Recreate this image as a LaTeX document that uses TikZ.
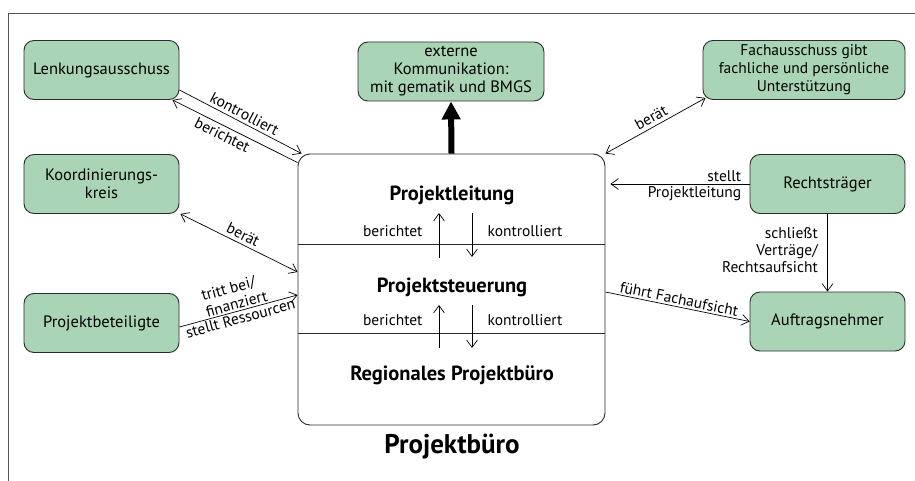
\documentclass[tikz,border=0pt]{standalone}
\usepackage{fontspec}
\setmainfont{PT Sans}
\usepackage{xcolor}
\usepackage{tikz}
\usetikzlibrary{arrows.meta}
\definecolor{pbgreen}{HTML}{A9D5B6}
\definecolor{pbline}{HTML}{2B2B2B}

\begin{document}
\begin{tikzpicture}[x=1pt,y=-1pt,
  every node/.style={font=\fontsize{15.5}{17}\selectfont},
  gremium/.style={draw=pbline,fill=pbgreen,rounded corners=10pt,line width=0.9pt,
    minimum width=155pt,minimum height=59pt,align=center,inner sep=2pt,
    font=\fontsize{16.5}{18}\selectfont},
  pfeil/.style={-{Straight Barb[length=2.6mm,width=3.8mm]},line width=0.7pt},
  doppelpfeil/.style={{Straight Barb[length=2.6mm,width=3.8mm]}-{Straight Barb[length=2.6mm,width=3.8mm]},line width=0.7pt},
  ebene/.style={font=\bfseries\fontsize{20.5}{22}\selectfont}]
  \useasboundingbox (0,0) rectangle (915,481);
  \draw[pbline!80,line width=0.8pt] (8,481) -- (8,13) -- (915,13);

  \node[gremium] (lenk) at (101.5,70) {Lenkungsausschuss};
  \node[gremium] (koord) at (101.5,184) {Koordinierungs-\\kreis};
  \node[gremium] (beteil) at (101.5,323) {Projektbeteiligte};
  \node[gremium,minimum width=186pt] (ext) at (451,71.5) {externe\\Kommunikation:\\mit gematik und BMGS};
  \node[gremium,minimum width=202pt,font=\fontsize{15.5}{18}\selectfont] (fach) at (804,70)
    {Fachausschuss gibt\\fachliche und persönliche\\Unterstützung};
  \node[gremium] (recht) at (827.5,184) {Rechtsträger};
  \node[gremium] (auftrag) at (827.5,321.5) {Auftragsnehmer};

  \node[draw=pbline,rounded corners=12pt,line width=0.9pt,minimum width=307pt,
    minimum height=271pt] (buero) at (451.5,289.5) {};
  \draw[pbline,line width=0.8pt] (298,244) -- (605,244);
  \draw[pbline,line width=0.8pt] (298,333) -- (605,333);
  \node[ebene] (leitung) at (452,195) {Projektleitung};
  \node[ebene] (steuerung) at (452,287) {Projektsteuerung};
  \node[ebene] (regional) at (452,375) {Regionales Projektbüro};
  \node[font=\bfseries\fontsize{27}{30}\selectfont] (titel) at (452,447) {Projektbüro};

  \coordinate (ob1) at (439,213);
  \coordinate (un1) at (439,258);
  \coordinate (ob2) at (472,213);
  \coordinate (un2) at (472,257);
  \coordinate (ob3) at (439,305);
  \coordinate (un3) at (439,348);
  \coordinate (ob4) at (472,305);
  \coordinate (un4) at (472,348);
  \draw[pfeil] (un1) -- (ob1);
  \draw[pfeil] (ob2) -- (un2);
  \draw[pfeil] (un3) -- (ob3);
  \draw[pfeil] (ob4) -- (un4);
  \node[anchor=east] (ber1) at (426,231) {berichtet};
  \node[anchor=west] (kon1) at (484,231) {kontrolliert};
  \node[anchor=east] (ber2) at (426,320) {berichtet};
  \node[anchor=west] (kon2) at (484,320) {kontrolliert};

  \draw[line width=6pt,-{Triangle[length=18pt,width=18pt]}] (buero.north) -- (ext.south);

  \draw[pfeil] ([yshift=-20pt]lenk.east) -- node[above,sloped,inner sep=3pt] {kontrolliert}
    ([xshift=4pt]buero.north west);
  \draw[pfeil] ([yshift=-9pt]buero.north west) -- node[below,sloped,pos=0.57,inner sep=3pt] {berichtet}
    ([xshift=-7pt]lenk.south east);
  \draw[doppelpfeil] ([xshift=1pt]koord.south east) -- node[above,sloped] {berät}
    ([yshift=17.5pt]buero.west);
  \draw[pfeil] ([yshift=-4pt]beteil.east) --
    node[above,sloped,align=left,inner sep=1.5pt] {tritt bei/\\finanziert}
    node[below,sloped,inner sep=1.5pt] {stellt Ressourcen} ([yshift=-5.5pt]buero.west);
  \draw[doppelpfeil] (buero.north east) -- node[above,sloped] {berät}
    ([xshift=3pt,yshift=2pt]fach.south west);
  \draw[pfeil,shorten >=5pt] (recht.west) --
    node[pos=0,above left,xshift=-6pt,inner sep=2pt] {stellt}
    node[pos=0,below left,xshift=-6pt,inner sep=2pt] {Projektleitung} (recht.west -| buero.east);
  \draw[pfeil] (recht.south) -- node[left,align=right,xshift=-6pt,yshift=3pt]
    {schließt\\Verträge/\\Rechtsaufsicht} (auftrag.north);
  \draw[pfeil] ([yshift=-2.5pt]buero.east) -- node[above,sloped,inner sep=2pt] {führt Fachaufsicht}
    (auftrag.west);
\end{tikzpicture}
\end{document}
